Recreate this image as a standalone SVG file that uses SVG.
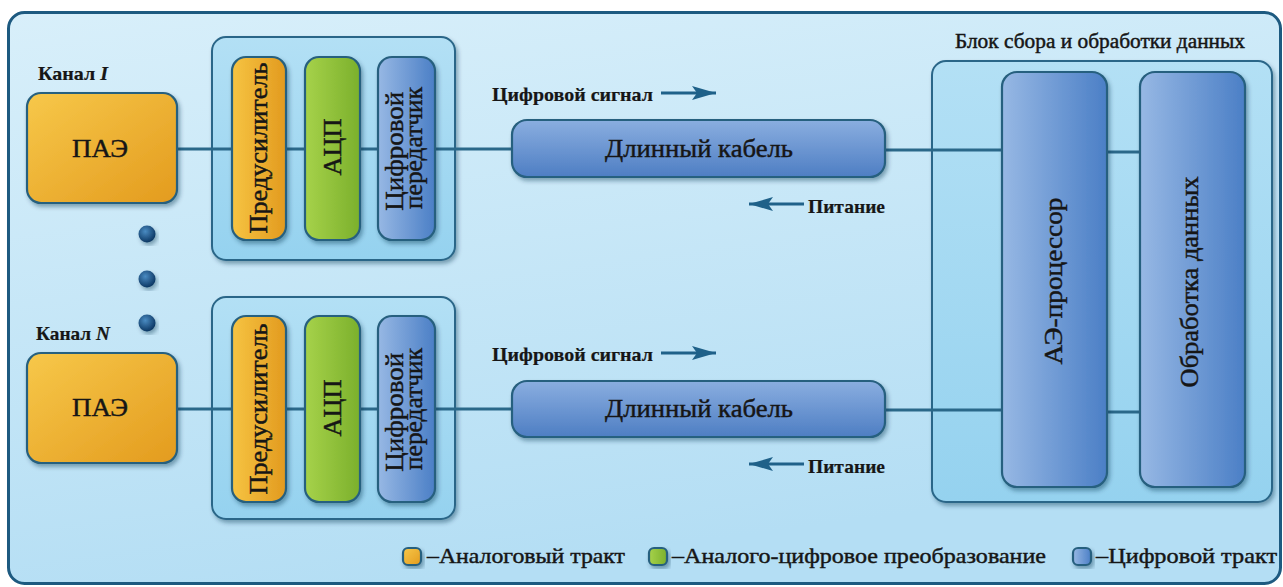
<svg xmlns="http://www.w3.org/2000/svg" width="1283" height="587" viewBox="0 0 1283 587">
<style>
.t{font-family:"Liberation Serif","DejaVu Serif",serif;fill:#161616;stroke:#161616;stroke-width:0.45}
.b{font-weight:bold;stroke-width:0.2}
.box{stroke:#28607f;stroke-width:2.2}
.grp{stroke:#2a6688;stroke-width:2;fill:url(#gGrp)}
.conn{stroke:#2a6889;stroke-width:3;fill:none}
.arr{stroke:#1f6189;stroke-width:3;fill:none}
</style>
<defs>
<linearGradient id="gBg" x1="0" y1="0" x2="0.3" y2="1">
<stop offset="0" stop-color="#d8effa"/><stop offset="1" stop-color="#b4def4"/>
</linearGradient>
<linearGradient id="gGrp" x1="0" y1="0" x2="0" y2="1">
<stop offset="0" stop-color="#b3e0f5"/><stop offset="1" stop-color="#95d2ef"/>
</linearGradient>
<linearGradient id="gOr" x1="0" y1="0" x2="1" y2="1">
<stop offset="0" stop-color="#f7c84a"/><stop offset="1" stop-color="#e39b1e"/>
</linearGradient>
<linearGradient id="gOrH" x1="0" y1="0" x2="1" y2="0">
<stop offset="0" stop-color="#f6c442"/><stop offset="1" stop-color="#e29a1f"/>
</linearGradient>
<linearGradient id="gGr" x1="0" y1="0" x2="1" y2="0">
<stop offset="0" stop-color="#a6d24a"/><stop offset="1" stop-color="#7bb02c"/>
</linearGradient>
<linearGradient id="gBlH" x1="0" y1="0" x2="1" y2="0">
<stop offset="0" stop-color="#97b8e4"/><stop offset="1" stop-color="#4b7fc6"/>
</linearGradient>
<linearGradient id="gBlV" x1="0" y1="0" x2="0" y2="1">
<stop offset="0" stop-color="#8aaee0"/><stop offset="1" stop-color="#4e7ec3"/>
</linearGradient>
<radialGradient id="gDot" cx="0.4" cy="0.35" r="0.65">
<stop offset="0" stop-color="#4a8bc2"/><stop offset="1" stop-color="#0c3763"/>
</radialGradient>
<filter id="sh" x="-20%" y="-20%" width="140%" height="140%">
<feDropShadow dx="2" dy="3" stdDeviation="2" flood-color="#0b2e4a" flood-opacity="0.4"/>
</filter>
<marker id="ah" markerUnits="userSpaceOnUse" markerWidth="26" markerHeight="14" refX="24" refY="7" orient="auto">
<path d="M0,0 L24,7 L0,14 L5,7 Z" fill="#1f6189"/>
</marker>
</defs>

<g id="background">
<rect x="8.5" y="12.5" width="1272" height="571" rx="16" fill="url(#gBg)" stroke="#1d5a80" stroke-width="3"/>
</g>

<!-- containers -->
<g id="module1"><rect class="grp" x="212" y="37" width="243" height="223" rx="14" filter="url(#sh)"/></g>
<g id="moduleN"><rect class="grp" x="212" y="297" width="243" height="222" rx="14" filter="url(#sh)"/></g>
<g id="dataBlock">
<rect class="grp" x="932" y="61" width="340" height="441" rx="14" filter="url(#sh)"/>
<text class="t" x="955" y="48" font-size="20" textLength="290" lengthAdjust="spacingAndGlyphs">Блок сбора и обработки данных</text>
</g>

<g id="connectors">
<line class="conn" x1="177" y1="149" x2="513" y2="149"/>
<line class="conn" x1="885" y1="150" x2="1003" y2="150"/>
<line class="conn" x1="1106" y1="152" x2="1141" y2="152"/>
<line class="conn" x1="177" y1="409" x2="513" y2="409"/>
<line class="conn" x1="885" y1="410" x2="1003" y2="410"/>
<line class="conn" x1="1106" y1="412" x2="1141" y2="412"/>
<line class="arr" x1="661" y1="93" x2="716" y2="93" marker-end="url(#ah)"/>
<line class="arr" x1="804" y1="204" x2="749" y2="204" marker-end="url(#ah)"/>
<line class="arr" x1="661" y1="353" x2="716" y2="353" marker-end="url(#ah)"/>
<line class="arr" x1="804" y1="464" x2="749" y2="464" marker-end="url(#ah)"/>
</g>

<g id="labels">
<text class="t b" x="38" y="80" font-size="19" textLength="70" lengthAdjust="spacingAndGlyphs">Канал <tspan font-style="italic">I</tspan></text>
<text class="t b" x="36" y="340" font-size="19" textLength="74" lengthAdjust="spacingAndGlyphs">Канал <tspan font-style="italic">N</tspan></text>
<text class="t b" x="492" y="101" font-size="19" textLength="161" lengthAdjust="spacingAndGlyphs">Цифровой сигнал</text>
<text class="t b" x="808" y="213" font-size="19" textLength="77" lengthAdjust="spacingAndGlyphs">Питание</text>
<text class="t b" x="492" y="361" font-size="19" textLength="161" lengthAdjust="spacingAndGlyphs">Цифровой сигнал</text>
<text class="t b" x="808" y="473" font-size="19" textLength="77" lengthAdjust="spacingAndGlyphs">Питание</text>
</g>

<g id="dots">
<circle cx="147" cy="234" r="8.5" fill="url(#gDot)" filter="url(#sh)"/>
<circle cx="147" cy="279" r="8.5" fill="url(#gDot)" filter="url(#sh)"/>
<circle cx="147" cy="323" r="8.5" fill="url(#gDot)" filter="url(#sh)"/>
</g>

<g id="pae1">
<rect class="box" x="27" y="93" width="150" height="110" rx="14" fill="url(#gOr)" filter="url(#sh)"/>
<text class="t" x="100" y="157" font-size="26" text-anchor="middle" textLength="56" lengthAdjust="spacingAndGlyphs">ПАЭ</text>
</g>
<g id="preamp1">
<rect class="box" x="232" y="57" width="54" height="183" rx="14" fill="url(#gOrH)" filter="url(#sh)"/>
<text class="t" transform="translate(259,148) rotate(-90)" x="0" y="8" font-size="26" text-anchor="middle" textLength="171" lengthAdjust="spacingAndGlyphs">Предусилитель</text>
</g>
<g id="adc1">
<rect class="box" x="305" y="57" width="55" height="183" rx="14" fill="url(#gGr)" filter="url(#sh)"/>
<text class="t" transform="translate(332.5,147) rotate(-90)" x="0" y="8" font-size="26" text-anchor="middle" textLength="57" lengthAdjust="spacingAndGlyphs">АЦП</text>
</g>
<g id="tx1">
<rect class="box" x="378" y="57" width="57" height="183" rx="14" fill="url(#gBlH)" filter="url(#sh)"/>
<text class="t" transform="translate(406.5,148) rotate(-90)" font-size="26" text-anchor="middle">
<tspan x="0" y="-3.5" textLength="119" lengthAdjust="spacingAndGlyphs">Цифровой</tspan>
<tspan x="0" y="15.5" textLength="122" lengthAdjust="spacingAndGlyphs">передатчик</tspan>
</text>
</g>
<g id="cable1">
<rect class="box" x="512" y="120" width="373" height="57" rx="15" fill="url(#gBlV)" filter="url(#sh)"/>
<text class="t" x="699" y="157" font-size="26" text-anchor="middle" textLength="188" lengthAdjust="spacingAndGlyphs">Длинный кабель</text>
</g>

<g id="paeN">
<rect class="box" x="27" y="353" width="150" height="110" rx="14" fill="url(#gOr)" filter="url(#sh)"/>
<text class="t" x="100" y="416" font-size="26" text-anchor="middle" textLength="56" lengthAdjust="spacingAndGlyphs">ПАЭ</text>
</g>
<g id="preampN">
<rect class="box" x="232" y="316" width="54" height="186" rx="14" fill="url(#gOrH)" filter="url(#sh)"/>
<text class="t" transform="translate(259,409) rotate(-90)" x="0" y="8" font-size="26" text-anchor="middle" textLength="171" lengthAdjust="spacingAndGlyphs">Предусилитель</text>
</g>
<g id="adcN">
<rect class="box" x="305" y="316" width="55" height="186" rx="14" fill="url(#gGr)" filter="url(#sh)"/>
<text class="t" transform="translate(332.5,408) rotate(-90)" x="0" y="8" font-size="26" text-anchor="middle" textLength="57" lengthAdjust="spacingAndGlyphs">АЦП</text>
</g>
<g id="txN">
<rect class="box" x="378" y="316" width="57" height="186" rx="14" fill="url(#gBlH)" filter="url(#sh)"/>
<text class="t" transform="translate(406.5,409) rotate(-90)" font-size="26" text-anchor="middle">
<tspan x="0" y="-3.5" textLength="119" lengthAdjust="spacingAndGlyphs">Цифровой</tspan>
<tspan x="0" y="15.5" textLength="122" lengthAdjust="spacingAndGlyphs">передатчик</tspan>
</text>
</g>
<g id="cableN">
<rect class="box" x="512" y="381" width="373" height="56" rx="15" fill="url(#gBlV)" filter="url(#sh)"/>
<text class="t" x="699" y="417" font-size="26" text-anchor="middle" textLength="188" lengthAdjust="spacingAndGlyphs">Длинный кабель</text>
</g>

<g id="aeProcessor">
<rect class="box" x="1002" y="72" width="105" height="415" rx="15" fill="url(#gBlH)" filter="url(#sh)"/>
<text class="t" transform="translate(1054.5,281) rotate(-90)" x="0" y="7.5" font-size="25" text-anchor="middle" textLength="167" lengthAdjust="spacingAndGlyphs">АЭ-процессор</text>
</g>
<g id="dataProcessing">
<rect class="box" x="1140" y="72" width="105" height="415" rx="15" fill="url(#gBlH)" filter="url(#sh)"/>
<text class="t" transform="translate(1192.5,282) rotate(-90)" x="0" y="5" font-size="25" text-anchor="middle" textLength="211" lengthAdjust="spacingAndGlyphs">Обработка данных</text>
</g>

<g id="legend">
<rect class="box" x="403" y="548" width="18" height="17" rx="5" fill="url(#gOr)" filter="url(#sh)"/>
<text class="t" x="427" y="563" font-size="22" textLength="198" lengthAdjust="spacingAndGlyphs">–Аналоговый тракт</text>
<rect class="box" x="649" y="548" width="18" height="17" rx="5" fill="url(#gGr)" filter="url(#sh)"/>
<text class="t" x="672" y="563" font-size="22" textLength="374" lengthAdjust="spacingAndGlyphs">–Аналого-цифровое преобразование</text>
<rect class="box" x="1073" y="548" width="18" height="17" rx="5" fill="url(#gBlH)" filter="url(#sh)"/>
<text class="t" x="1096" y="563" font-size="22" textLength="181" lengthAdjust="spacingAndGlyphs">–Цифровой тракт</text>
</g>
</svg>
